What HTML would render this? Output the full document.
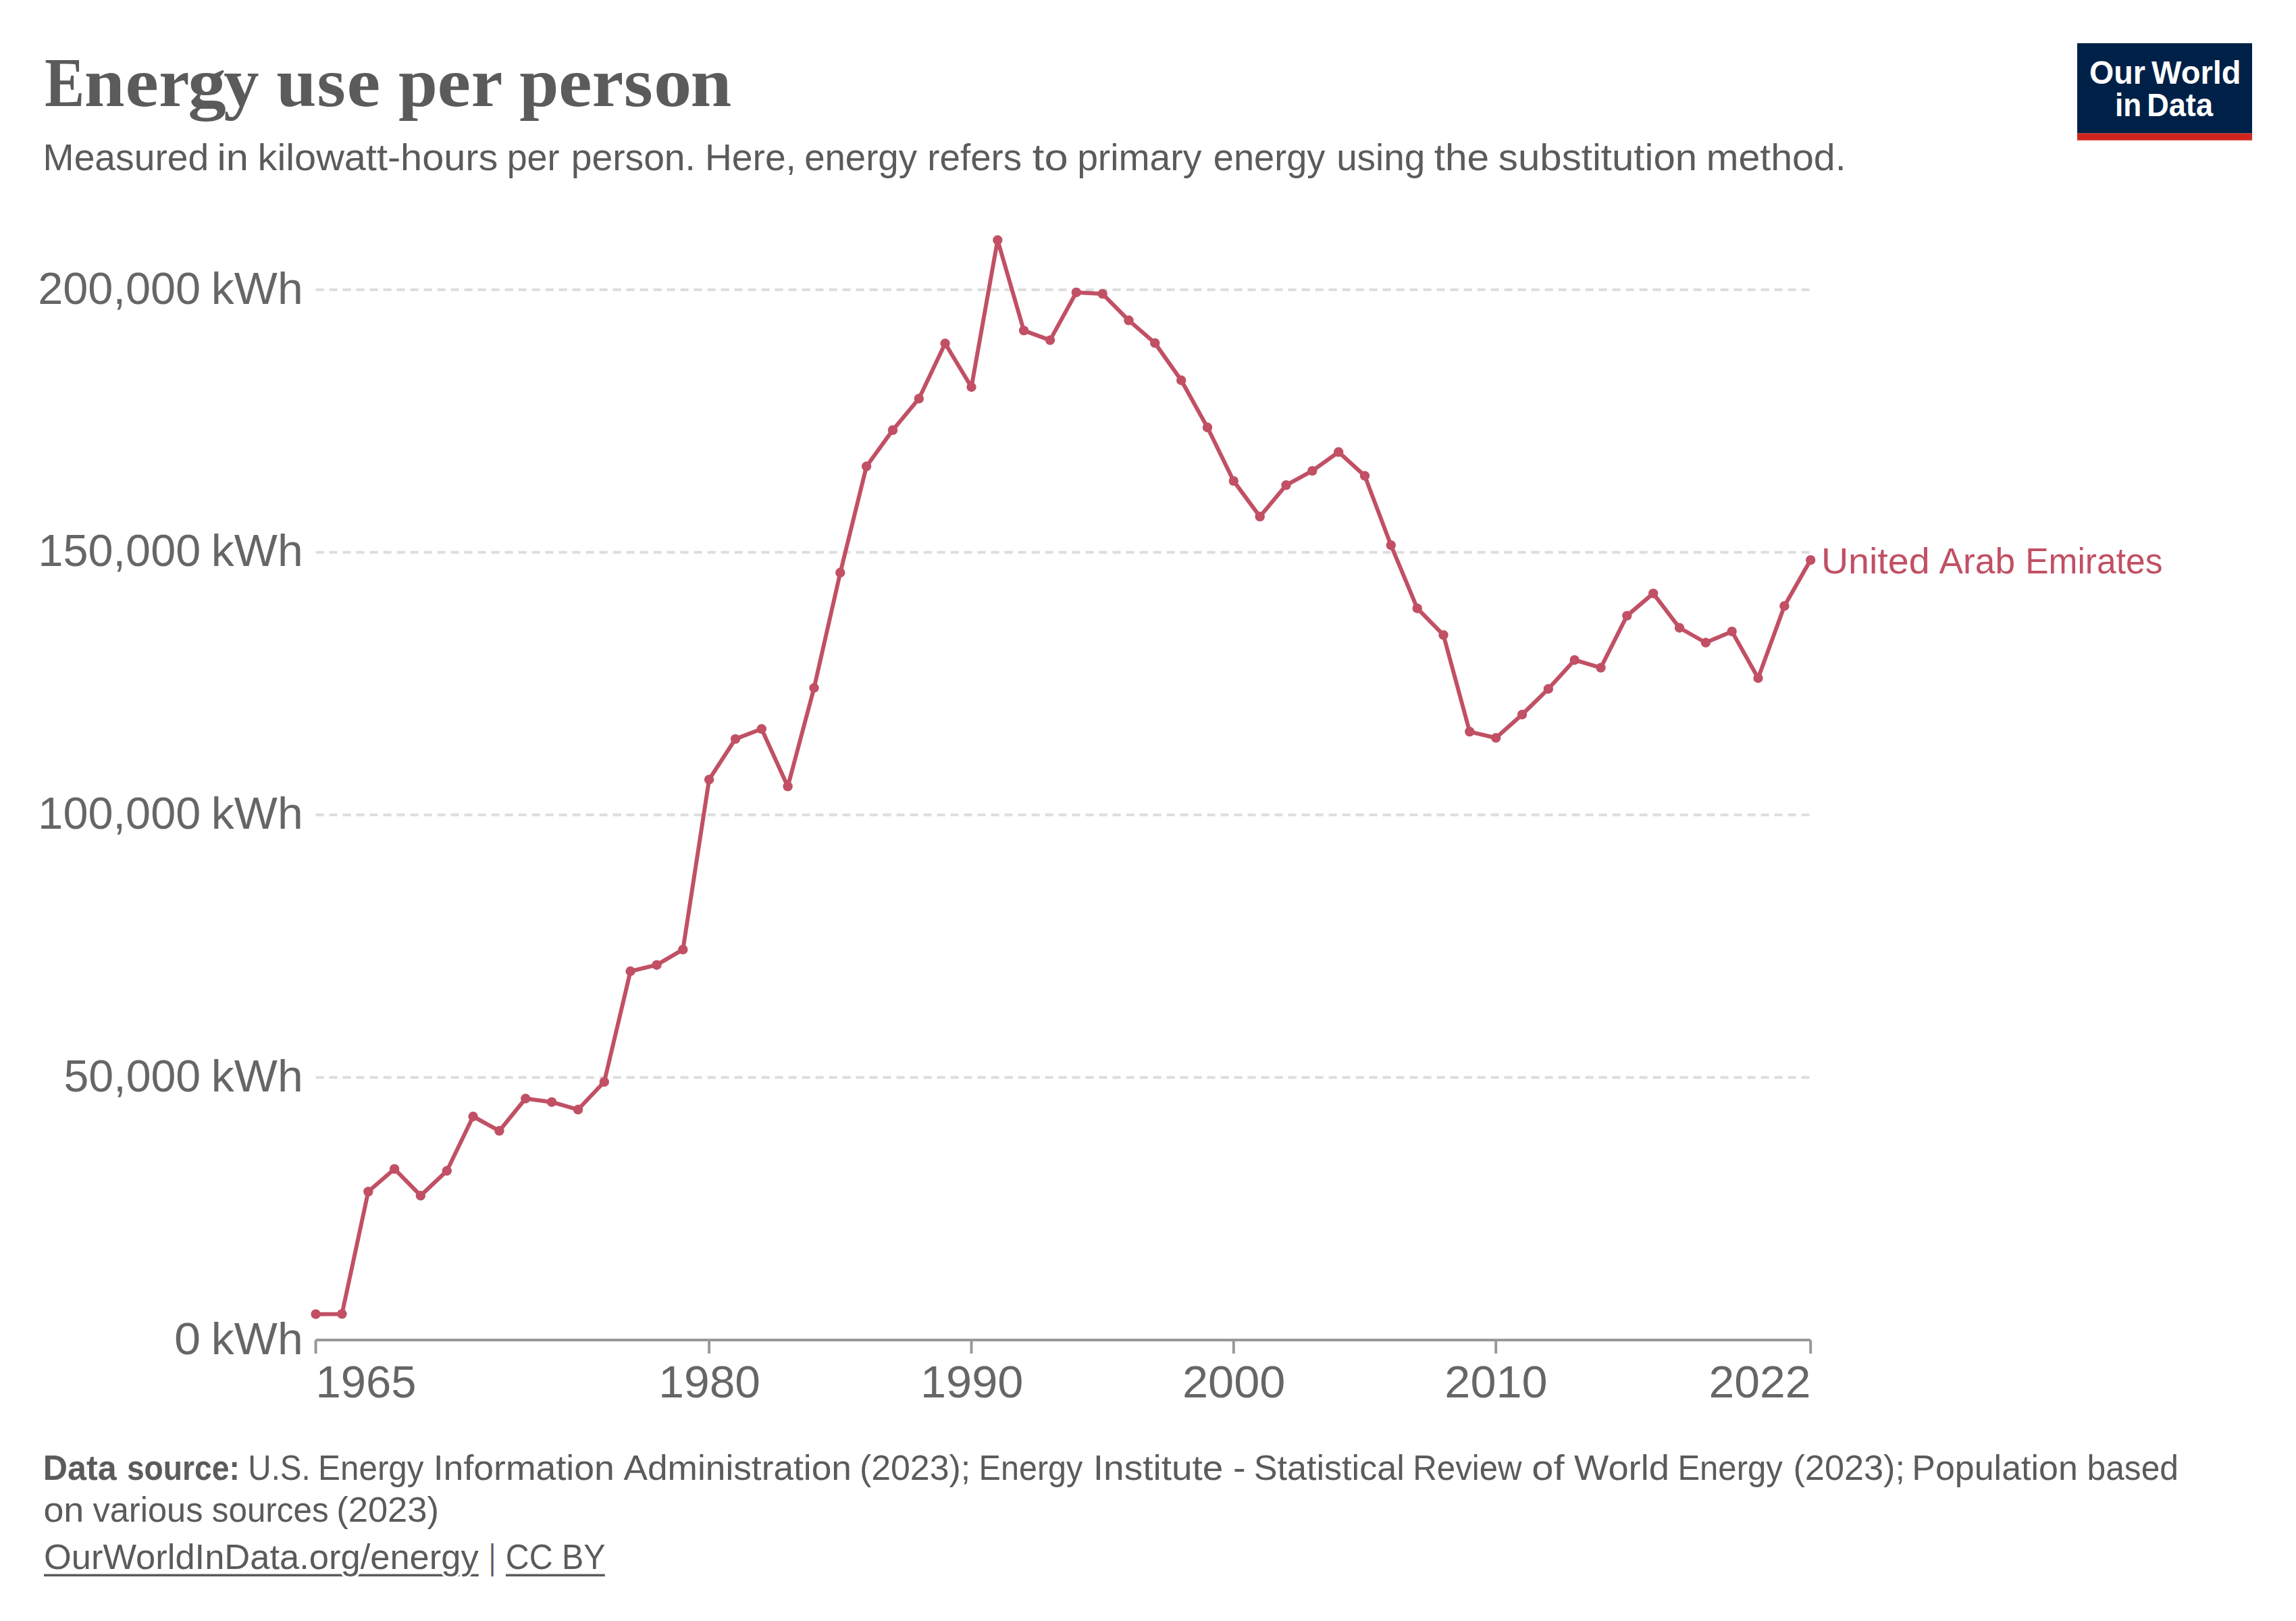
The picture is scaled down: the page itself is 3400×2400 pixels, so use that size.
<!DOCTYPE html>
<html lang="en">
<head>
<meta charset="utf-8">
<title>Energy use per person</title>
<style>html,body{margin:0;padding:0;background:#fff}body{width:3400px;height:2400px;overflow:hidden}svg{display:block}text{white-space:pre}</style>
</head>
<body>
<svg width="3400" height="2400" viewBox="0 0 3400 2400">
<rect width="3400" height="2400" fill="#fff"/>
<g stroke="#ddd" stroke-width="4" stroke-dasharray="12,8" fill="none">
<line x1="467.6" y1="429.0" x2="2681.1" y2="429.0"/>
<line x1="467.6" y1="817.75" x2="2681.1" y2="817.75"/>
<line x1="467.6" y1="1206.5" x2="2681.1" y2="1206.5"/>
<line x1="467.6" y1="1595.25" x2="2681.1" y2="1595.25"/>
</g>
<g stroke="#999" stroke-width="4" fill="none">
<line x1="467.6" y1="1984" x2="2681.1" y2="1984"/>
<line x1="467.6" y1="1984" x2="467.6" y2="2004"/>
<line x1="1050.1" y1="1984" x2="1050.1" y2="2004"/>
<line x1="1438.5" y1="1984" x2="1438.5" y2="2004"/>
<line x1="1826.8" y1="1984" x2="1826.8" y2="2004"/>
<line x1="2215.2" y1="1984" x2="2215.2" y2="2004"/>
<line x1="2681.2" y1="1984" x2="2681.2" y2="2004"/>
</g>
<polyline points="467.6,1945.7 506.4,1945.4 545.3,1764.3 584.1,1730.7 622.9,1770.2 661.8,1733.5 700.6,1653.0 739.4,1674.3 778.3,1626.5 817.1,1631.7 856.0,1642.8 894.8,1601.8 933.6,1438.0 972.5,1428.7 1011.3,1405.9 1050.1,1154.2 1089.0,1094.1 1127.8,1079.3 1166.6,1164.4 1205.5,1018.5 1244.3,847.8 1283.1,690.5 1322.0,636.8 1360.8,590.2 1399.6,508.5 1438.5,573.0 1477.3,355.5 1516.1,489.4 1555.0,503.6 1593.8,432.9 1632.7,435.1 1671.5,474.3 1710.3,507.9 1749.2,563.0 1788.0,632.8 1826.8,712.1 1865.7,764.8 1904.5,718.3 1943.3,697.1 1982.2,669.3 2021.0,704.5 2059.8,807.2 2098.7,900.7 2137.5,940.2 2176.3,1083.3 2215.2,1092.5 2254.0,1058.0 2292.8,1020.0 2331.7,977.2 2370.5,988.6 2409.3,911.6 2448.2,878.6 2487.0,929.5 2525.9,951.5 2564.7,934.9 2603.5,1004.0 2642.4,897.2 2681.2,829.1" fill="none" stroke="#c15065" stroke-width="6" stroke-linejoin="round" stroke-linecap="butt"/>
<g fill="#c15065">
<circle cx="467.6" cy="1945.7" r="7.2"/>
<circle cx="506.4" cy="1945.4" r="7.2"/>
<circle cx="545.3" cy="1764.3" r="7.2"/>
<circle cx="584.1" cy="1730.7" r="7.2"/>
<circle cx="622.9" cy="1770.2" r="7.2"/>
<circle cx="661.8" cy="1733.5" r="7.2"/>
<circle cx="700.6" cy="1653.0" r="7.2"/>
<circle cx="739.4" cy="1674.3" r="7.2"/>
<circle cx="778.3" cy="1626.5" r="7.2"/>
<circle cx="817.1" cy="1631.7" r="7.2"/>
<circle cx="856.0" cy="1642.8" r="7.2"/>
<circle cx="894.8" cy="1601.8" r="7.2"/>
<circle cx="933.6" cy="1438.0" r="7.2"/>
<circle cx="972.5" cy="1428.7" r="7.2"/>
<circle cx="1011.3" cy="1405.9" r="7.2"/>
<circle cx="1050.1" cy="1154.2" r="7.2"/>
<circle cx="1089.0" cy="1094.1" r="7.2"/>
<circle cx="1127.8" cy="1079.3" r="7.2"/>
<circle cx="1166.6" cy="1164.4" r="7.2"/>
<circle cx="1205.5" cy="1018.5" r="7.2"/>
<circle cx="1244.3" cy="847.8" r="7.2"/>
<circle cx="1283.1" cy="690.5" r="7.2"/>
<circle cx="1322.0" cy="636.8" r="7.2"/>
<circle cx="1360.8" cy="590.2" r="7.2"/>
<circle cx="1399.6" cy="508.5" r="7.2"/>
<circle cx="1438.5" cy="573.0" r="7.2"/>
<circle cx="1477.3" cy="355.5" r="7.2"/>
<circle cx="1516.1" cy="489.4" r="7.2"/>
<circle cx="1555.0" cy="503.6" r="7.2"/>
<circle cx="1593.8" cy="432.9" r="7.2"/>
<circle cx="1632.7" cy="435.1" r="7.2"/>
<circle cx="1671.5" cy="474.3" r="7.2"/>
<circle cx="1710.3" cy="507.9" r="7.2"/>
<circle cx="1749.2" cy="563.0" r="7.2"/>
<circle cx="1788.0" cy="632.8" r="7.2"/>
<circle cx="1826.8" cy="712.1" r="7.2"/>
<circle cx="1865.7" cy="764.8" r="7.2"/>
<circle cx="1904.5" cy="718.3" r="7.2"/>
<circle cx="1943.3" cy="697.1" r="7.2"/>
<circle cx="1982.2" cy="669.3" r="7.2"/>
<circle cx="2021.0" cy="704.5" r="7.2"/>
<circle cx="2059.8" cy="807.2" r="7.2"/>
<circle cx="2098.7" cy="900.7" r="7.2"/>
<circle cx="2137.5" cy="940.2" r="7.2"/>
<circle cx="2176.3" cy="1083.3" r="7.2"/>
<circle cx="2215.2" cy="1092.5" r="7.2"/>
<circle cx="2254.0" cy="1058.0" r="7.2"/>
<circle cx="2292.8" cy="1020.0" r="7.2"/>
<circle cx="2331.7" cy="977.2" r="7.2"/>
<circle cx="2370.5" cy="988.6" r="7.2"/>
<circle cx="2409.3" cy="911.6" r="7.2"/>
<circle cx="2448.2" cy="878.6" r="7.2"/>
<circle cx="2487.0" cy="929.5" r="7.2"/>
<circle cx="2525.9" cy="951.5" r="7.2"/>
<circle cx="2564.7" cy="934.9" r="7.2"/>
<circle cx="2603.5" cy="1004.0" r="7.2"/>
<circle cx="2642.4" cy="897.2" r="7.2"/>
<circle cx="2681.2" cy="829.1" r="7.2"/>
</g>
<rect x="3076" y="64" width="259" height="133.4" fill="#002147"/>
<rect x="3076" y="197.3" width="259" height="10.5" fill="#ce261e"/>
<g stroke="#5b5b5b" stroke-width="3.5">
<line id="u1" x1="65" y1="2332.3" x2="708.8" y2="2332.3"/>
<line id="u2" x1="749" y1="2332.3" x2="895.8" y2="2332.3"/>
</g>
<text id="title" y="157.10" font-size="104" fill="#5b5b5b" font-family='"Liberation Serif", serif' font-weight="bold"><tspan id="title.0" x="66.35" textLength="58.95" lengthAdjust="spacingAndGlyphs">E</tspan><tspan id="title.1" x="124.80" textLength="59.81" lengthAdjust="spacingAndGlyphs">n</tspan><tspan id="title.2" x="185.46" textLength="49.29" lengthAdjust="spacingAndGlyphs">e</tspan><tspan id="title.3" x="235.20" textLength="45.21" lengthAdjust="spacingAndGlyphs">r</tspan><tspan id="title.4" x="278.39" textLength="56.61" lengthAdjust="spacingAndGlyphs">g</tspan><tspan id="title.5" x="331.23" textLength="52.34" lengthAdjust="spacingAndGlyphs">y</tspan><tspan> </tspan><tspan id="title.6" x="409.19" textLength="59.21" lengthAdjust="spacingAndGlyphs">u</tspan><tspan id="title.7" x="469.26" textLength="42.63" lengthAdjust="spacingAndGlyphs">s</tspan><tspan id="title.8" x="513.63" textLength="49.67" lengthAdjust="spacingAndGlyphs">e</tspan><tspan> </tspan><tspan id="title.9" x="589.96" textLength="57.89" lengthAdjust="spacingAndGlyphs">p</tspan><tspan id="title.10" x="647.61" textLength="49.54" lengthAdjust="spacingAndGlyphs">e</tspan><tspan id="title.11" x="697.85" textLength="44.74" lengthAdjust="spacingAndGlyphs">r</tspan><tspan> </tspan><tspan id="title.12" x="769.37" textLength="58.10" lengthAdjust="spacingAndGlyphs">p</tspan><tspan id="title.13" x="827.02" textLength="49.51" lengthAdjust="spacingAndGlyphs">e</tspan><tspan id="title.14" x="876.79" textLength="46.47" lengthAdjust="spacingAndGlyphs">r</tspan><tspan id="title.15" x="923.88" textLength="43.04" lengthAdjust="spacingAndGlyphs">s</tspan><tspan id="title.16" x="968.06" textLength="56.26" lengthAdjust="spacingAndGlyphs">o</tspan><tspan id="title.17" x="1022.59" textLength="60.84" lengthAdjust="spacingAndGlyphs">n</tspan></text>
<text id="sub" y="251.70" font-size="56" fill="#5b5b5b" font-family='"Liberation Sans", sans-serif'><tspan id="sub.0" x="63.62" textLength="245.74" lengthAdjust="spacingAndGlyphs">Measured</tspan><tspan> </tspan><tspan id="sub.1" x="321.41" textLength="46.36" lengthAdjust="spacingAndGlyphs">in</tspan><tspan> </tspan><tspan id="sub.2" x="381.60" textLength="355.81" lengthAdjust="spacingAndGlyphs">kilowatt-hours</tspan><tspan> </tspan><tspan id="sub.3" x="750.64" textLength="77.87" lengthAdjust="spacingAndGlyphs">per</tspan><tspan> </tspan><tspan id="sub.4" x="845.71" textLength="184.20" lengthAdjust="spacingAndGlyphs">person.</tspan><tspan> </tspan><tspan id="sub.5" x="1043.96" textLength="134.99" lengthAdjust="spacingAndGlyphs">Here,</tspan><tspan> </tspan><tspan id="sub.6" x="1191.13" textLength="166.87" lengthAdjust="spacingAndGlyphs">energy</tspan><tspan> </tspan><tspan id="sub.7" x="1373.28" textLength="139.92" lengthAdjust="spacingAndGlyphs">refers</tspan><tspan> </tspan><tspan id="sub.8" x="1528.80" textLength="52.88" lengthAdjust="spacingAndGlyphs">to</tspan><tspan> </tspan><tspan id="sub.9" x="1595.13" textLength="184.28" lengthAdjust="spacingAndGlyphs">primary</tspan><tspan> </tspan><tspan id="sub.10" x="1796.82" textLength="165.60" lengthAdjust="spacingAndGlyphs">energy</tspan><tspan> </tspan><tspan id="sub.11" x="1979.13" textLength="131.08" lengthAdjust="spacingAndGlyphs">using</tspan><tspan> </tspan><tspan id="sub.12" x="2123.68" textLength="81.60" lengthAdjust="spacingAndGlyphs">the</tspan><tspan> </tspan><tspan id="sub.13" x="2218.89" textLength="294.30" lengthAdjust="spacingAndGlyphs">substitution</tspan><tspan> </tspan><tspan id="sub.14" x="2526.70" textLength="206.87" lengthAdjust="spacingAndGlyphs">method.</tspan></text>
<text id="y200" y="449.60" font-size="66.3" fill="#666" font-family='"Liberation Sans", sans-serif'><tspan id="y200.0" x="56.18" textLength="241.04" lengthAdjust="spacingAndGlyphs">200,000</tspan><tspan> </tspan><tspan id="y200.1" x="312.88" textLength="135.90" lengthAdjust="spacingAndGlyphs">kWh</tspan></text>
<text id="y150" y="838.40" font-size="66.3" fill="#666" font-family='"Liberation Sans", sans-serif'><tspan id="y150.0" x="56.52" textLength="240.69" lengthAdjust="spacingAndGlyphs">150,000</tspan><tspan> </tspan><tspan id="y150.1" x="312.88" textLength="135.90" lengthAdjust="spacingAndGlyphs">kWh</tspan></text>
<text id="y100" y="1227.40" font-size="66.3" fill="#666" font-family='"Liberation Sans", sans-serif'><tspan id="y100.0" x="56.36" textLength="240.94" lengthAdjust="spacingAndGlyphs">100,000</tspan><tspan> </tspan><tspan id="y100.1" x="312.88" textLength="135.90" lengthAdjust="spacingAndGlyphs">kWh</tspan></text>
<text id="y50" y="1616.00" font-size="66.3" fill="#666" font-family='"Liberation Sans", sans-serif'><tspan id="y50.0" x="94.49" textLength="202.75" lengthAdjust="spacingAndGlyphs">50,000</tspan><tspan> </tspan><tspan id="y50.1" x="312.88" textLength="135.90" lengthAdjust="spacingAndGlyphs">kWh</tspan></text>
<text id="y0" y="2004.90" font-size="66.3" fill="#666" font-family='"Liberation Sans", sans-serif'><tspan id="y0.0" x="258.13" textLength="39.15" lengthAdjust="spacingAndGlyphs">0</tspan><tspan> </tspan><tspan id="y0.1" x="312.88" textLength="135.90" lengthAdjust="spacingAndGlyphs">kWh</tspan></text>
<text id="x1965" x="467.54" y="2068.70" font-size="66.3" fill="#666" font-family='"Liberation Sans", sans-serif' textLength="148.92" lengthAdjust="spacingAndGlyphs">1965</text>
<text id="x1980" x="975.25" y="2068.70" font-size="66.3" fill="#666" font-family='"Liberation Sans", sans-serif' textLength="150.78" lengthAdjust="spacingAndGlyphs">1980</text>
<text id="x1990" x="1362.99" y="2068.70" font-size="66.3" fill="#666" font-family='"Liberation Sans", sans-serif' textLength="152.52" lengthAdjust="spacingAndGlyphs">1990</text>
<text id="x2000" x="1750.96" y="2068.70" font-size="66.3" fill="#666" font-family='"Liberation Sans", sans-serif' textLength="152.45" lengthAdjust="spacingAndGlyphs">2000</text>
<text id="x2010" x="2139.39" y="2068.70" font-size="66.3" fill="#666" font-family='"Liberation Sans", sans-serif' textLength="152.27" lengthAdjust="spacingAndGlyphs">2010</text>
<text id="x2022" x="2530.61" y="2068.70" font-size="66.3" fill="#666" font-family='"Liberation Sans", sans-serif' textLength="150.92" lengthAdjust="spacingAndGlyphs">2022</text>
<text id="lab" y="848.60" font-size="54" fill="#c15065" font-family='"Liberation Sans", sans-serif'><tspan id="lab.0" x="2696.93" textLength="160.76" lengthAdjust="spacingAndGlyphs">United</tspan><tspan> </tspan><tspan id="lab.1" x="2871.60" textLength="112.47" lengthAdjust="spacingAndGlyphs">Arab</tspan><tspan> </tspan><tspan id="lab.2" x="2999.16" textLength="203.23" lengthAdjust="spacingAndGlyphs">Emirates</tspan></text>
<text id="f1b" y="2190.70" font-size="52" fill="#5b5b5b" font-family='"Liberation Sans", sans-serif' font-weight="bold"><tspan id="f1b.0" x="63.83" textLength="108.80" lengthAdjust="spacingAndGlyphs">Data</tspan><tspan> </tspan><tspan id="f1b.1" x="187.89" textLength="167.06" lengthAdjust="spacingAndGlyphs">source:</tspan></text>
<text id="f1" y="2190.70" font-size="52" fill="#5b5b5b" font-family='"Liberation Sans", sans-serif'><tspan id="f1.0" x="367.34" textLength="92.37" lengthAdjust="spacingAndGlyphs">U.S.</tspan><tspan> </tspan><tspan id="f1.1" x="471.00" textLength="156.50" lengthAdjust="spacingAndGlyphs">Energy</tspan><tspan> </tspan><tspan id="f1.2" x="641.73" textLength="268.12" lengthAdjust="spacingAndGlyphs">Information</tspan><tspan> </tspan><tspan id="f1.3" x="923.40" textLength="337.50" lengthAdjust="spacingAndGlyphs">Administration</tspan><tspan> </tspan><tspan id="f1.4" x="1272.92" textLength="164.27" lengthAdjust="spacingAndGlyphs">(2023);</tspan><tspan> </tspan><tspan id="f1.5" x="1449.61" textLength="153.71" lengthAdjust="spacingAndGlyphs">Energy</tspan><tspan> </tspan><tspan id="f1.6" x="1618.82" textLength="192.53" lengthAdjust="spacingAndGlyphs">Institute</tspan><tspan> </tspan><tspan id="f1.7" x="1825.94" textLength="18.74" lengthAdjust="spacingAndGlyphs">-</tspan><tspan> </tspan><tspan id="f1.8" x="1856.67" textLength="223.18" lengthAdjust="spacingAndGlyphs">Statistical</tspan><tspan> </tspan><tspan id="f1.9" x="2092.32" textLength="161.28" lengthAdjust="spacingAndGlyphs">Review</tspan><tspan> </tspan><tspan id="f1.10" x="2268.30" textLength="48.36" lengthAdjust="spacingAndGlyphs">of</tspan><tspan> </tspan><tspan id="f1.11" x="2331.10" textLength="140.86" lengthAdjust="spacingAndGlyphs">World</tspan><tspan> </tspan><tspan id="f1.12" x="2484.39" textLength="155.41" lengthAdjust="spacingAndGlyphs">Energy</tspan><tspan> </tspan><tspan id="f1.13" x="2655.45" textLength="165.57" lengthAdjust="spacingAndGlyphs">(2023);</tspan><tspan> </tspan><tspan id="f1.14" x="2831.25" textLength="245.62" lengthAdjust="spacingAndGlyphs">Population</tspan><tspan> </tspan><tspan id="f1.15" x="3090.56" textLength="135.48" lengthAdjust="spacingAndGlyphs">based</tspan></text>
<text id="f2" y="2253.40" font-size="52" fill="#5b5b5b" font-family='"Liberation Sans", sans-serif'><tspan id="f2.0" x="64.45" textLength="59.87" lengthAdjust="spacingAndGlyphs">on</tspan><tspan> </tspan><tspan id="f2.1" x="137.41" textLength="163.09" lengthAdjust="spacingAndGlyphs">various</tspan><tspan> </tspan><tspan id="f2.2" x="313.71" textLength="172.99" lengthAdjust="spacingAndGlyphs">sources</tspan><tspan> </tspan><tspan id="f2.3" x="498.22" textLength="151.79" lengthAdjust="spacingAndGlyphs">(2023)</tspan></text>
<text id="f3a" x="65.01" y="2323.30" font-size="52" fill="#5b5b5b" font-family='"Liberation Sans", sans-serif' textLength="643.69" lengthAdjust="spacingAndGlyphs" stroke="#fff" stroke-width="7" paint-order="stroke" stroke-linejoin="round">OurWorldInData.org/energy</text>
<text id="f3b" x="724.00" y="2323.30" font-size="52" fill="#5b5b5b" font-family='"Liberation Sans", sans-serif' textLength="10.00" lengthAdjust="spacingAndGlyphs">|</text>
<text id="f3c" x="748.77" y="2323.30" font-size="52" fill="#5b5b5b" font-family='"Liberation Sans", sans-serif' textLength="147.67" lengthAdjust="spacingAndGlyphs" stroke="#fff" stroke-width="7" paint-order="stroke" stroke-linejoin="round">CC BY</text>
<text id="logo1" y="123.70" font-size="48.6" fill="#fff" font-family='"Liberation Sans", sans-serif' font-weight="bold"><tspan id="logo1.0" x="3094.06" textLength="82.79" lengthAdjust="spacingAndGlyphs">Our</tspan><tspan> </tspan><tspan id="logo1.1" x="3186.09" textLength="132.49" lengthAdjust="spacingAndGlyphs">World</tspan></text>
<text id="logo2" y="171.50" font-size="48.6" fill="#fff" font-family='"Liberation Sans", sans-serif' font-weight="bold"><tspan id="logo2.0" x="3132.10" textLength="39.19" lengthAdjust="spacingAndGlyphs">in</tspan><tspan> </tspan><tspan id="logo2.1" x="3179.18" textLength="97.84" lengthAdjust="spacingAndGlyphs">Data</tspan></text>
</svg>
</body>
</html>
